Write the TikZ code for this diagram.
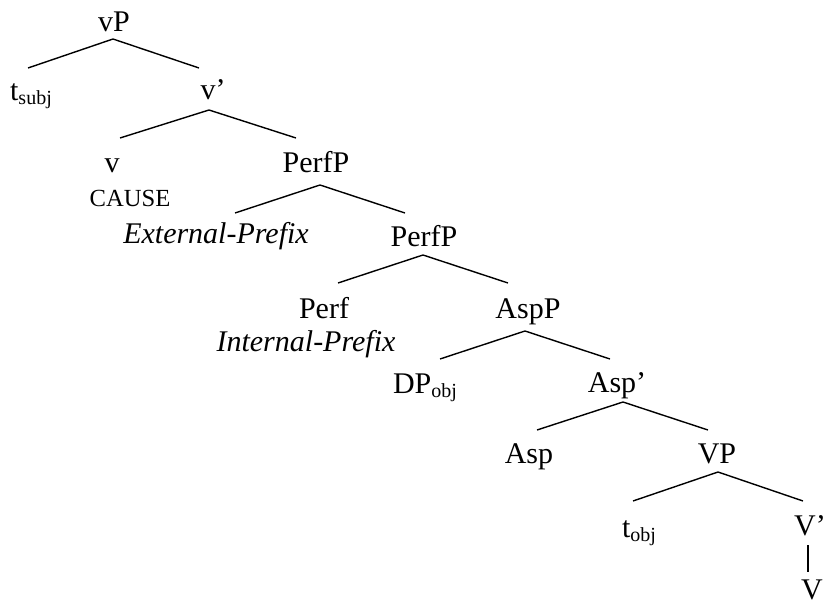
\documentclass[tikz,border=0pt]{standalone}
\usepackage{fontspec}
\setmainfont{Liberation Serif}
\usepackage{tikz}

\newcommand{\lsub}[1]{\raisebox{-2pt}{\fontsize{10}{11}\selectfont #1}}

\begin{document}
\begin{tikzpicture}[x=0.5pt, y=0.5pt,
        lab/.style={anchor=base, inner sep=0pt, font=\fontsize{15}{17}\selectfont},
        small/.style={lab, font=\fontsize{12.3}{14}\selectfont},
        branch/.style={line width=0.7pt}]
        \useasboundingbox (0,0) rectangle (824,-604);
        % labels, placed at their baselines
        \node[lab] (vP) at (114,-32) {vP};
        \node[lab] (tsubj) at (31,-101) {t\lsub{subj}};
        \node[lab] (vbar) at (213,-100) {v’};
        \node[lab] (v) at (112,-173) {v};
        \node[small] (cause) at (130,-206) {CAUSE};
        \node[lab] (perfP) at (316,-173) {PerfP};
        \node[lab] (extpref) at (216,-243) {\itshape External-Prefix};
        \node[lab] (perfPb) at (424,-247) {PerfP};
        \node[lab] (perf) at (324,-318) {Perf};
        \node[lab] (intpref) at (306,-351) {\itshape Internal-Prefix};
        \node[lab] (aspP) at (528,-318) {AspP};
        \node[lab] (dpobj) at (425,-393) {DP\lsub{obj}};
        \node[lab] (aspbar) at (617,-392) {Asp’};
        \node[lab] (asp) at (529,-463) {Asp};
        \node[lab] (VP) at (717,-463) {VP};
        \node[lab] (tobj) at (639,-537) {t\lsub{obj}};
        \node[lab] (Vbar) at (810,-535) {V’};
        \node[lab] (V) at (812,-599) {V};
        % branches
        \draw[branch] ([shift={(-3,33)}]tsubj.base) -- ([shift={(-1,-7)}]vP.base) -- ([shift={(-14,32)}]vbar.base);
        \draw[branch] ([shift={(8,35)}]v.base) -- ([shift={(-4,-10)}]vbar.base) -- ([shift={(-20,35)}]perfP.base);
        \draw[branch] ([shift={(19,30)}]extpref.base) -- ([shift={(4,-12)}]perfP.base) -- ([shift={(-19,34)}]perfPb.base);
        \draw[branch] ([shift={(14,35)}]perf.base) -- ([shift={(-1,-8)}]perfPb.base) -- ([shift={(-20,35)}]aspP.base);
        \draw[branch] ([shift={(15,34)}]dpobj.base) -- ([shift={(-3,-13)}]aspP.base) -- ([shift={(-7,33)}]aspbar.base);
        \draw[branch] ([shift={(8,33)}]asp.base) -- ([shift={(6,-10)}]aspbar.base) -- ([shift={(-9,33)}]VP.base);
        \draw[branch] ([shift={(-6,36)}]tobj.base) -- ([shift={(1,-9)}]VP.base) -- ([shift={(-7,34)}]Vbar.base);
        \draw[branch] ([shift={(-2,-10)}]Vbar.base) -- ([shift={(-4,27)}]V.base);
    \end{tikzpicture}
\end{document}
